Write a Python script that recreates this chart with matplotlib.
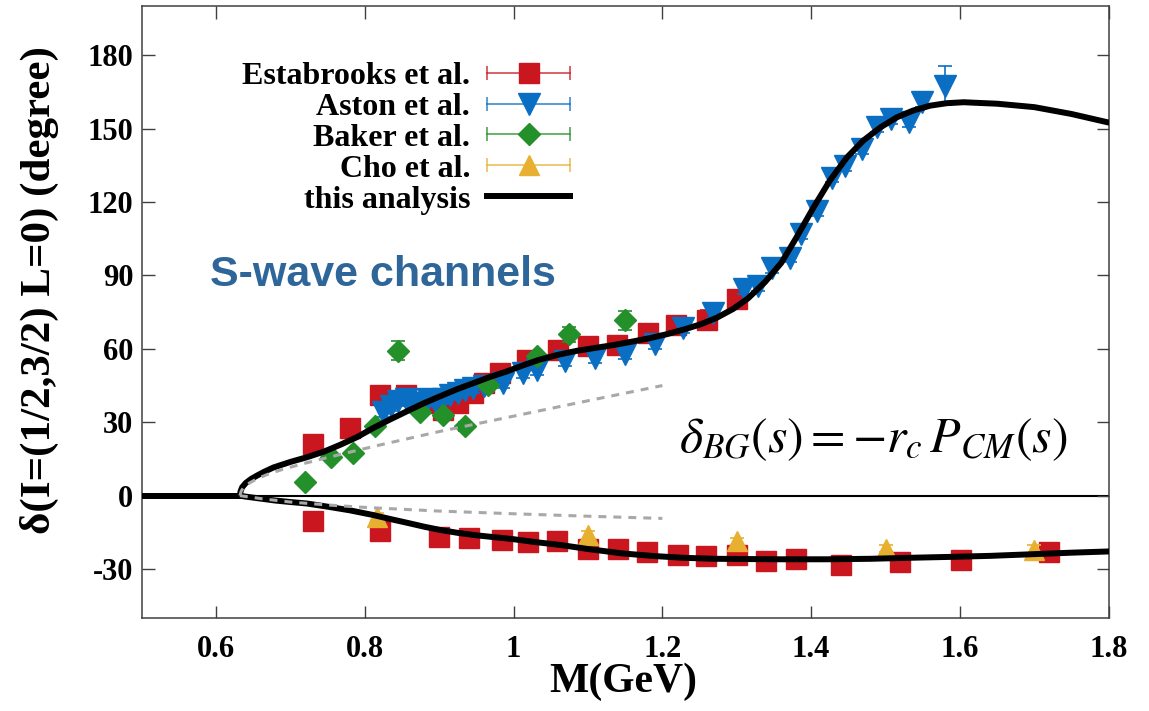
"""S-wave K-pi phase shifts with background term."""

import matplotlib
matplotlib.use("Agg")
import matplotlib.pyplot as plt
from matplotlib.lines import Line2D
from matplotlib.legend_handler import HandlerTuple, HandlerLine2D

plt.rcParams["font.family"] = ["Liberation Serif", "DejaVu Serif"]
plt.rcParams["mathtext.fontset"] = "stix"
plt.rcParams["axes.unicode_minus"] = False

# ---- data ----
# Estabrooks et al. (red squares)
est_up_m = [0.730, 0.780, 0.820, 0.855, 0.880, 0.905, 0.925, 0.945, 0.960, 0.982,
            1.018, 1.060, 1.100, 1.139, 1.181, 1.219, 1.260, 1.300]
est_up_d = [21.1, 27.7, 41.0, 41.0, 38.0, 35.0, 38.0, 42.0, 46.0, 50.0,
            55.5, 59.5, 61.0, 61.6, 66.4, 69.8, 71.8, 80.5]
est_up_e = [2, 2, 2, 2, 2, 2, 2, 2, 2, 2, 2, 2, 2, 2, 2, 3, 4, 3]
est_lo_m = [0.730, 0.820, 0.900, 0.940, 0.984, 1.020, 1.058, 1.100, 1.141, 1.179,
            1.221, 1.259, 1.300, 1.339, 1.380, 1.440, 1.520, 1.601, 1.720]
est_lo_d = [-10.5, -14.5, -17.0, -17.5, -18.2, -18.9, -18.6, -21.8, -21.6, -23.0,
            -24.1, -24.6, -24.3, -26.8, -25.7, -28.2, -27.3, -26.1, -23.2]
est_lo_e = [2] * len(est_lo_m)

# Aston et al. (blue down triangles)
ast_m = [0.825, 0.835, 0.845, 0.855, 0.865, 0.875, 0.885, 0.895, 0.905, 0.915,
         0.925, 0.935, 0.945, 0.960, 0.986, 1.013, 1.031, 1.069, 1.109, 1.150,
         1.190, 1.228, 1.268, 1.310, 1.328, 1.348, 1.372, 1.386, 1.408, 1.428,
         1.446, 1.468, 1.488, 1.508, 1.531, 1.549, 1.580]
ast_d = [34.0, 36.5, 38.5, 39.5, 38.0, 38.0, 39.5, 38.5, 39.5, 41.0,
         42.0, 43.0, 44.0, 45.0, 46.0, 50.0, 51.5, 55.0, 56.3, 57.7,
         61.8, 68.6, 74.7, 84.3, 85.7, 93.2, 97.3, 106.8, 116.4, 130.0,
         134.8, 141.7, 150.5, 154.0, 152.6, 160.8, 167.6]
ast_e = [2] * 36 + [8]

# Baker et al. (green diamonds)
bak_m = [0.720, 0.755, 0.784, 0.814, 0.845, 0.874, 0.905, 0.934, 0.966, 1.031, 1.074, 1.150]
bak_d = [5.7, 16.0, 17.3, 28.3, 59.3, 34.4, 33.1, 28.3, 45.4, 57.0, 65.9, 71.6]
bak_e = [1, 1, 1, 1, 4, 1, 1, 2, 1, 1, 3, 4]

# Cho et al. (orange triangles)
cho_m = [0.816, 1.100, 1.300, 1.500, 1.700]
cho_d = [-8.6, -16.1, -18.6, -21.6, -22.3]
cho_e = [1.5, 1.5, 1.5, 1.5, 2.0]

# this analysis (black curve): flat part, upper and lower branch
fit_flat_m = [0.50, 0.632]
fit_flat_d = [0.0, 0.0]
fit_up_m = [0.632, 0.633, 0.635, 0.640, 0.647, 0.655, 0.665, 0.677, 0.700, 0.722,
            0.745, 0.767, 0.790, 0.811, 0.833, 0.856, 0.878, 0.901, 0.923, 0.946,
            0.968, 0.991, 1.013, 1.035, 1.060, 1.085, 1.110, 1.135, 1.160, 1.185,
            1.206, 1.230, 1.251, 1.273, 1.295, 1.315, 1.338, 1.360, 1.380, 1.403,
            1.425, 1.448, 1.470, 1.493, 1.515, 1.537, 1.560, 1.582, 1.605, 1.627,
            1.650, 1.700, 1.750, 1.800]
fit_up_d = [0.0, 1.8, 3.4, 5.2, 6.8, 8.2, 9.8, 11.5, 13.8, 15.7,
            18.0, 20.8, 24.0, 27.6, 31.0, 34.4, 37.6, 40.6, 43.4, 46.0,
            48.5, 50.8, 53.3, 55.6, 57.6, 59.2, 60.4, 61.6, 63.0, 64.5,
            66.0, 68.0, 70.0, 72.7, 76.3, 80.6, 87.3, 95.2, 105.4, 117.7,
            128.7, 138.2, 145.1, 150.5, 154.6, 157.4, 159.4, 160.4, 160.8, 160.5,
            160.2, 158.8, 156.0, 152.5]
fit_lo_m = [0.632, 0.640, 0.660, 0.680, 0.700, 0.722, 0.750, 0.780, 0.811, 0.835,
            0.860, 0.880, 0.901, 0.925, 0.950, 0.975, 1.000, 1.030, 1.064, 1.100,
            1.146, 1.190, 1.229, 1.270, 1.311, 1.360, 1.421, 1.480, 1.531, 1.590,
            1.641, 1.700, 1.750, 1.800]
fit_lo_d = [0.0, -0.4, -1.2, -2.0, -2.6, -3.2, -4.5, -6.0, -7.9, -9.6,
            -11.3, -12.7, -14.0, -15.2, -16.2, -17.0, -17.8, -19.0, -20.2, -21.8,
            -23.6, -24.7, -25.4, -25.8, -25.9, -26.0, -26.0, -25.8, -25.4, -25.0,
            -24.6, -23.9, -23.3, -22.8]

# background term (grey dashed)
bg_up_m = [0.632, 0.634, 0.638, 0.645, 0.655, 0.670, 0.690, 0.715, 0.745, 0.780,
           0.820, 0.900, 1.000, 1.100, 1.200]
bg_up_d = [0.0, 2.0, 3.6, 5.2, 6.9, 8.8, 10.8, 12.9, 15.2, 17.8,
           20.7, 26.2, 32.5, 38.8, 45.0]
bg_lo_m = [0.632, 0.660, 0.700, 0.750, 0.800, 0.900, 1.000, 1.100, 1.200]
bg_lo_d = [0.0, -1.2, -2.6, -3.8, -4.8, -6.3, -7.4, -8.4, -9.3]

xticks = [0.6, 0.8, 1.0, 1.2, 1.4, 1.6, 1.8]
xtick_labels = ["0.6", "0.8", "1", "1.2", "1.4", "1.6", "1.8"]
yticks = [-30, 0, 30, 60, 90, 120, 150, 180]

c_red, c_blue, c_green, c_orange = "#c9161f", "#0a6fc2", "#23902a", "#e8b030"

fig = plt.figure(figsize=(11.49, 7.11), dpi=100)
ax = fig.add_axes([0.1233, 0.1308, 0.8416, 0.8603])

ax.axhline(0, color="black", lw=1.5, zorder=1)

eb = dict(ls="none", elinewidth=1.2, capsize=5, capthick=1.2)
ax.errorbar(est_up_m, est_up_d, yerr=est_up_e, color=c_red, marker="s", ms=15, zorder=3, **eb)
ax.errorbar(est_lo_m, est_lo_d, yerr=est_lo_e, color=c_red, marker="s", ms=15, zorder=3, **eb)
ax.errorbar(cho_m, cho_d, yerr=cho_e, color=c_orange, marker="^", ms=14, zorder=3.5, **eb)
ax.errorbar(ast_m, ast_d, yerr=ast_e, color=c_blue, marker="v", ms=16, zorder=4, **eb)
ax.errorbar(bak_m, bak_d, yerr=bak_e, color=c_green, marker="D", ms=11, zorder=5, **eb)

for m, d in [(fit_flat_m, fit_flat_d), (fit_up_m, fit_up_d), (fit_lo_m, fit_lo_d)]:
    ax.plot(m, d, color="black", lw=4.3, zorder=6, solid_capstyle="round")
for m, d in [(bg_up_m, bg_up_d), (bg_lo_m, bg_lo_d)]:
    ax.plot(m, d, color="#a8a8a8", lw=2.2, ls=(0, (2.6, 2.3)), zorder=7)

ax.set_xlim(0.5, 1.8)
ax.set_ylim(-50, 200)
ax.set_xticks(xticks)
ax.set_xticklabels(xtick_labels)
ax.set_yticks(yticks)
ax.tick_params(direction="in", length=9, width=1.0, top=True, right=True,
               labelsize=22, color="#404040")
ax.tick_params(axis="x", pad=12)
ax.tick_params(axis="y", pad=6)
for lab in ax.get_xticklabels() + ax.get_yticklabels():
    lab.set_fontweight("bold")
for sp in ax.spines.values():
    sp.set_color("#404040")
    sp.set_linewidth(1.1)

ax.set_xlabel("M(GeV)", fontsize=30, fontweight="bold")
ax.set_ylabel("δ(I=(1/2,3/2) L=0) (degree)", fontsize=31, fontweight="bold")
ax.xaxis.set_label_coords(0.498, -0.072)
ax.yaxis.set_label_coords(-0.086, 0.536)

ax.text(0.25, 0.561, "S-wave channels", transform=ax.transAxes, ha="center", va="center",
        fontsize=31, fontweight="bold", color="#2f6699", family=["Liberation Sans", "DejaVu Sans"])
ax.text(0.756, 0.291, r"$\delta_{BG}(s)=-r_c\,P_{CM}(s)$", transform=ax.transAxes,
        ha="center", va="center", fontsize=36)

# legend handles in gnuplot style: horizontal bar with caps and a centred marker
handles = []
hmap = {tuple: HandlerTuple(ndivide=1, pad=0)}
for col, mk, ms in [(c_red, "s", 15), (c_blue, "v", 16), (c_green, "D", 11), (c_orange, "^", 14)]:
    bar = Line2D([], [], color=col, lw=1.2, alpha=0.8)
    caps = Line2D([], [], color=col, ls="none", marker="|", ms=10, mew=1.2, alpha=0.8)
    mark = Line2D([], [], color=col, ls="none", marker=mk, ms=ms)
    hmap[caps] = HandlerLine2D(numpoints=2, marker_pad=0)
    handles.append((bar, caps, mark))
handles.append(Line2D([], [], color="black", lw=4.3))
labels = ["Estabrooks et al.", "Aston et al.", "Baker et al.", "Cho et al.", "this analysis"]

leg = ax.legend(handles, labels, handler_map=hmap, loc="upper right",
                bbox_to_anchor=(0.443, 0.910), frameon=False, markerfirst=False,
                borderpad=0, borderaxespad=0, handlelength=2.6, handletextpad=0.53,
                labelspacing=0.05, prop=dict(family="Liberation Serif", weight="bold", size=23))

fig.savefig("out.png", dpi=100)
